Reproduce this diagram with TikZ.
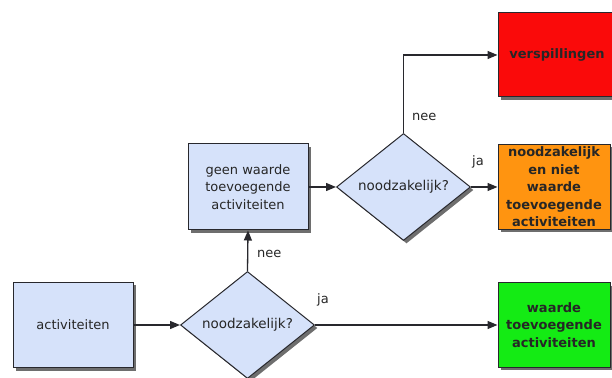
\documentclass[tikz,border=0pt]{standalone}
\usepackage{fontspec}
\setmainfont{DejaVu Sans}
\usetikzlibrary{shapes.geometric,arrows.meta,shadows}
\definecolor{boxblue}{RGB}{214,226,250}
\definecolor{edgegray}{RGB}{40,40,45}
\definecolor{wasteRed}{RGB}{250,10,10}
\definecolor{needOrange}{RGB}{255,148,16}
\definecolor{valueGreen}{RGB}{20,235,20}
\definecolor{shadowgray}{RGB}{110,110,110}
\tikzset{
  shadowed/.style={drop shadow={shadow xshift=3pt,shadow yshift=-3pt,fill=shadowgray,opacity=1}},
  procbox/.style={draw=edgegray,line width=1pt,fill=boxblue,shadowed,inner sep=0pt,align=center,
    font=\fontsize{13}{17.5}\selectfont,text=black!85},
  resbox/.style={draw=edgegray,line width=1pt,shadowed,inner sep=0pt,align=center,
    font=\fontsize{13}{17.5}\selectfont\bfseries,text=black!85},
  decision/.style={diamond,aspect=1.25,draw=edgegray,line width=1pt,fill=boxblue,shadowed,inner sep=0pt,
    minimum width=134pt,minimum height=107pt,font=\fontsize{13.5}{16}\selectfont,text=black!85},
  flow/.style={draw=edgegray,line width=1.3pt,-{Triangle[length=10pt,width=8pt]}},
  lbl/.style={font=\fontsize{13}{16}\selectfont,text=black!85,inner sep=0pt}
}
\begin{document}
\begin{tikzpicture}[x=1pt,y=1pt]
\useasboundingbox (0,0) rectangle (612,377);
\node[procbox,minimum width=120pt,minimum height=85pt] (act) at (73,52) {activiteiten};
\node[decision] (d1) at (247.5,52) {noodzakelijk?};
\node[procbox,minimum width=120pt,minimum height=86pt] (geen) at (248,190) {geen waarde\\toevoegende\\activiteiten};
\node[decision] (d2) at (403.5,190) {noodzakelijk?};
\node[resbox,fill=wasteRed,minimum width=118pt,minimum height=84pt] (red) at (557,322) {verspillingen};
\node[resbox,fill=needOrange,minimum width=112pt,minimum height=85pt] (orange) at (554,190) {noodzakelijk\\en niet\\waarde\\toevoegende\\activiteiten};
\node[resbox,fill=valueGreen,minimum width=112pt,minimum height=84pt] (green) at (554,52) {waarde\\toevoegende\\activiteiten};

\draw[flow] (act.east) -- (d1.west);
\draw[flow] (d1.east) -- (green.west);
\draw[flow] (d1.north) -- (geen.south);
\draw[flow] (geen.east) -- (d2.west);
\draw[flow] (d2.east) -- (orange.west);
\draw[flow] (d2.north) |- (red.west);

\node[lbl,anchor=west] (ja1) at (317,77) {ja};
\node[lbl,anchor=west] (nee1) at (257,123) {nee};
\node[lbl,anchor=west] (ja2) at (472,215) {ja};
\node[lbl,anchor=west] (nee2) at (412,260) {nee};
\end{tikzpicture}
\end{document}
